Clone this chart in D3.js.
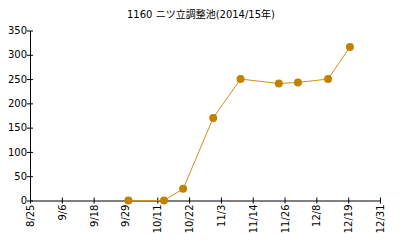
<!DOCTYPE html>
<html>
<head>
<meta charset="utf-8">
<script src="https://cdn.jsdelivr.net/npm/d3@7"></script>
<style>
	body { margin: 0; background: #fff; }
	text { font-family: "DejaVu Sans", sans-serif; font-size: 10px; fill: #000; }
	.title { font-family: "DejaVu Sans", "Noto Sans CJK JP", sans-serif; }
</style>
</head>
<body>
<svg id="chart"></svg>
<script>
//Reservoir storage readings, 2014/15 season.
const title = '1160 ニツ立調整池(2014/15年)';
const dates = ['2014-09-30', '2014-10-13', '2014-10-20', '2014-10-31', '2014-11-10',
	'2014-11-24', '2014-12-01', '2014-12-12', '2014-12-20'];
const values = [0, 0, 24, 170, 250, 241, 243, 250, 316];
const xTickLabels = ['8/25', '9/6', '9/18', '9/29', '10/11', '10/22', '11/3',
	'11/14', '11/26', '12/8', '12/19', '12/31'];
const yTicks = [0, 50, 100, 150, 200, 250, 300, 350];

const width = 400, height = 250;
const margin = {top: 30.5, right: 20, bottom: 49.5, left: 30};
const innerWidth = width - margin.left - margin.right;
const innerHeight = height - margin.top - margin.bottom;
const pointColor = '#c08200';
const lineColor = '#cc9020';

const parse = d3.timeParse('%Y-%m-%d');
const start = parse('2014-08-25'), end = parse('2014-12-31');

const svg = d3.select('#chart')
	.attr('width', width)
	.attr('height', height);

svg.append('text')
	.attr('class', 'title')
	.text(title)
	.attr('x', 201)
	.attr('y', 18)
	.attr('text-anchor', 'middle');

const g = svg.append('g')
	.attr('transform', `translate(${margin.left}, ${margin.top})`);

const x = d3.scaleTime().domain([start, end]).range([0, innerWidth]);
const y = d3.scaleLinear().domain([0, 350]).range([innerHeight, 0]);

//Tick labels sit at equal steps across the date range.
const step = (end - start) / (xTickLabels.length - 1);
const xTickDates = xTickLabels.map((d, i) => new Date(+start + i * step));

const xAxis = g.append('g')
	.attr('transform', `translate(0, ${innerHeight})`)
	.call(d3.axisBottom(x)
		.tickValues(xTickDates)
		.tickFormat((d, i) => xTickLabels[i])
		.tickSizeInner(3)
		.tickSizeOuter(0));
xAxis.selectAll('.tick line').attr('y1', -3).attr('y2', 3);
xAxis.selectAll('.tick text')
	.attr('transform', 'rotate(-90)')
	.attr('text-anchor', 'end')
	.attr('x', -4)
	.attr('y', 0)
	.attr('dy', '0.35em');

const yAxis = g.append('g')
	.call(d3.axisLeft(y)
		.tickValues(yTicks)
		.tickSizeInner(3)
		.tickSizeOuter(0));
yAxis.selectAll('.tick line').attr('x1', -3).attr('x2', 3);
yAxis.selectAll('.tick text').attr('x', -3);
g.selectAll('.domain').attr('stroke', '#000');
g.selectAll('.tick text').style('font-family', '"DejaVu Sans", sans-serif');

const data = dates.map((d, i) => ({date: parse(d), value: values[i]}));

g.append('path')
	.datum(data)
	.attr('fill', 'none')
	.attr('stroke', lineColor)
	.attr('stroke-width', 1)
	.attr('d', d3.line().x(d => x(d.date)).y(d => y(d.value)));

g.selectAll('circle')
	.data(data)
	.join('circle')
	.attr('cx', d => x(d.date))
	.attr('cy', d => y(d.value))
	.attr('r', 4)
	.attr('fill', pointColor);
</script>
</body>
</html>
